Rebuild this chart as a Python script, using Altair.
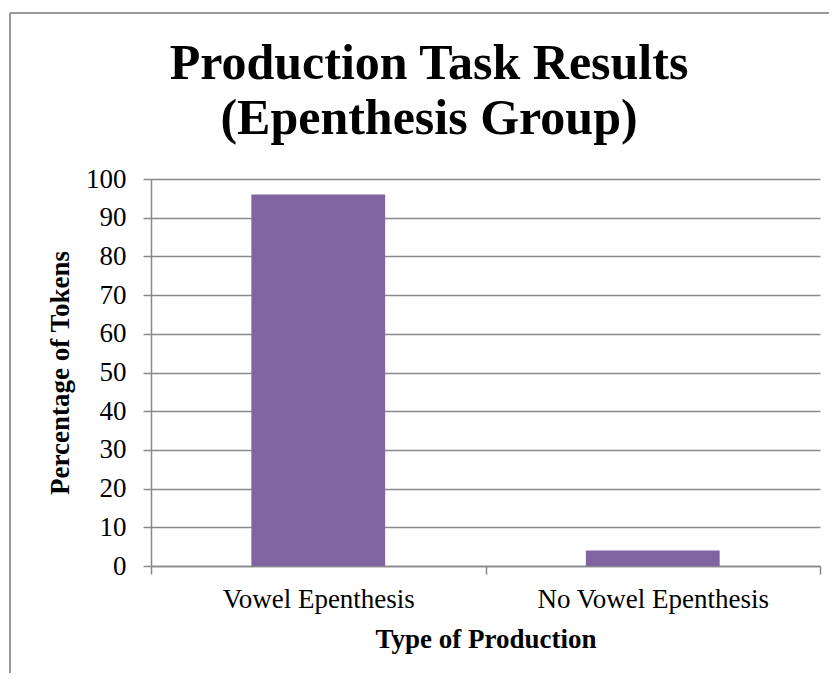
import altair as alt
import pandas as pd

categories = ["Vowel Epenthesis", "No Vowel Epenthesis"]
percentages = [96, 4]
y_ticks = [0, 10, 20, 30, 40, 50, 60, 70, 80, 90, 100]
title_lines = ["Production Task Results", "(Epenthesis Group)"]

df = pd.DataFrame({"type": categories, "pct": percentages})

GRAY = "#898989"
FONT = "Liberation Serif"

bars = alt.Chart(df).mark_bar(color="#8064A2", width={"band": 0.4}).encode(
    x=alt.X(
        "type:N",
        sort=categories,
        title="Type of Production",
        scale=alt.Scale(paddingInner=0, paddingOuter=0),
        axis=alt.Axis(
            labelAngle=0,
            labelLimit=0,
            tickBand="extent",
            tickSize=8,
            labelPadding=33,
            labelBaseline="alphabetic",
            labelFontSize=27,
            titleFontSize=27,
            titleFontWeight="bold",
            titleBaseline="alphabetic",
            titleY=81,
            domainColor=GRAY,
            tickColor=GRAY,
            domainWidth=1.5,
            tickWidth=1.5,
            labelColor="black",
            titleColor="black",
            grid=False,
        ),
    ),
    y=alt.Y(
        "pct:Q",
        title="Percentage of Tokens",
        scale=alt.Scale(domain=[0, 100], nice=False),
        axis=alt.Axis(
            values=y_ticks,
            tickSize=8,
            labelPadding=17,
            labelFontSize=27,
            titleFontSize=27,
            titleFontWeight="bold",
            titleBaseline="alphabetic",
            titleX=-83,
            domainColor=GRAY,
            tickColor=GRAY,
            gridColor=GRAY,
            domainWidth=1.5,
            tickWidth=1.5,
            gridWidth=1.5,
            labelColor="black",
            titleColor="black",
            grid=True,
        ),
    ),
)

one = pd.DataFrame({"b": [0]})
left_edge = alt.Chart(one).mark_rule(color="#9a9a9a", strokeWidth=2).encode(
    x=alt.value(-141), y=alt.value(-166), y2=alt.value(700)
)
top_edge = alt.Chart(one).mark_rule(color="#9a9a9a", strokeWidth=2).encode(
    x=alt.value(-141), x2=alt.value(900), y=alt.value(-166)
)

chart = alt.layer(left_edge, top_edge, bars).properties(
    width=669,
    height=387,
    autosize=alt.AutoSizeParams(type="none"),
    padding={"left": 143, "top": 171, "right": 9, "bottom": 107},
    title=alt.TitleParams(
        text=title_lines,
        fontSize=50,
        fontWeight="bold",
        font=FONT,
        color="black",
        anchor="middle",
        baseline="top",
        dx=-56.5,
        dy=136,
        lineHeight=55,
    ),
).configure(font=FONT).configure_view(stroke=None)

chart.save("out.html", embed_options={"renderer": "svg", "actions": False})
